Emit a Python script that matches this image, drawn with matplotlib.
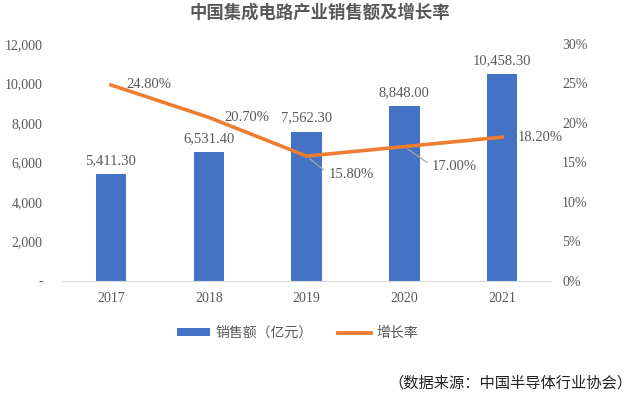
import matplotlib
matplotlib.use("Agg")
import matplotlib.pyplot as plt
from matplotlib.ticker import FuncFormatter, MultipleLocator
from matplotlib.patches import Patch
from matplotlib.lines import Line2D

plt.rcParams['font.family'] = ['Liberation Serif', 'Noto Sans CJK SC', 'DejaVu Sans']

years = ['2017', '2018', '2019', '2020', '2021']
sales = [5411.3, 6531.4, 7562.3, 8848.0, 10458.3]
growth = [24.8, 20.7, 15.8, 17.0, 18.2]
sales_labels = ['5,411.30', '6,531.40', '7,562.30', '8,848.00', '10,458.30']
growth_labels = ['24.80%', '20.70%', '15.80%', '17.00%', '18.20%']

blue = '#4472C4'
orange = '#ED7D31'
grey = '#595959'

fig = plt.figure(figsize=(6.4, 3.99), dpi=100)
ax = fig.add_axes([0.097, 0.296, 0.764, 0.594])
x = list(range(len(years)))
ax.bar(x, sales, width=0.31, color=blue, zorder=2)
ax.set_xlim(-0.5, 4.5)
ax.set_ylim(0, 12000)
ax.yaxis.set_major_locator(MultipleLocator(2000))
ax.yaxis.set_major_formatter(FuncFormatter(lambda v, p: '-' if v == 0 else f'{v:,.0f}'))
ax.set_xticks(x)
ax.set_xticklabels(years)
for s in ['top', 'right', 'left']:
    ax.spines[s].set_visible(False)
ax.spines['bottom'].set_color('#d9d9d9')
ax.tick_params(axis='both', length=0, labelsize=10, colors=grey)
ax.tick_params(axis='x', pad=8)
ax.tick_params(axis='y', pad=14)
for xi, v, lab in zip(x, sales, sales_labels):
    ax.annotate(lab, (xi, v), xytext=(0, 5), textcoords='offset points',
                ha='center', va='bottom', fontsize=10.5, color=grey)

ax2 = ax.twinx()
ax2.plot(x, growth, color=orange, lw=2.6, zorder=3)
ax2.set_ylim(0, 30)
ax2.yaxis.set_major_locator(MultipleLocator(5))
ax2.yaxis.set_major_formatter(FuncFormatter(lambda v, p: f'{v:.0f}%'))
for s in ['top', 'right', 'left', 'bottom']:
    ax2.spines[s].set_visible(False)
ax2.tick_params(axis='y', length=0, labelsize=10, colors=grey, pad=8)

offsets = [(11, 0), (11, 0), (16, -13), (20, -14), (11, 0)]
leader = [False, False, True, True, False]
for xi, v, lab, off, ld in zip(x, growth, growth_labels, offsets, leader):
    kw = {}
    if ld:
        kw['arrowprops'] = dict(arrowstyle='-', color='#a6a6a6', lw=0.9,
                                shrinkA=2, shrinkB=3, relpos=(0, 0.5))
    ax2.annotate(lab, (xi, v), xytext=off, textcoords='offset points',
                 ha='left', va='center', fontsize=10.5, color=grey, zorder=4, **kw)

fig.text(0.5, 0.968, '中国集成电路产业销售额及增长率', ha='center', va='center',
         fontsize=12.5, fontweight='bold', color=grey,
         family=['Noto Sans CJK SC', 'DejaVu Sans'])

handles = [Patch(facecolor=blue, edgecolor='none'),
           Line2D([0], [0], color=orange, lw=2.8)]
leg = fig.legend(handles, ['销售额（亿元）', '增长率'], loc='center',
                 bbox_to_anchor=(0.465, 0.165), ncol=2, frameon=False,
                 prop={'family': ['Noto Sans CJK SC', 'DejaVu Sans'], 'size': 10},
                 handlelength=2.4, handleheight=0.5, columnspacing=1.8, handletextpad=0.4)
for t in leg.get_texts():
    t.set_color(grey)

fig.text(0.988, 0.04, '（数据来源：中国半导体行业协会）', ha='right', va='center',
         fontsize=11, color='#222222', family=['Noto Sans CJK SC', 'DejaVu Sans'])

fig.savefig('out.png', dpi=100)
